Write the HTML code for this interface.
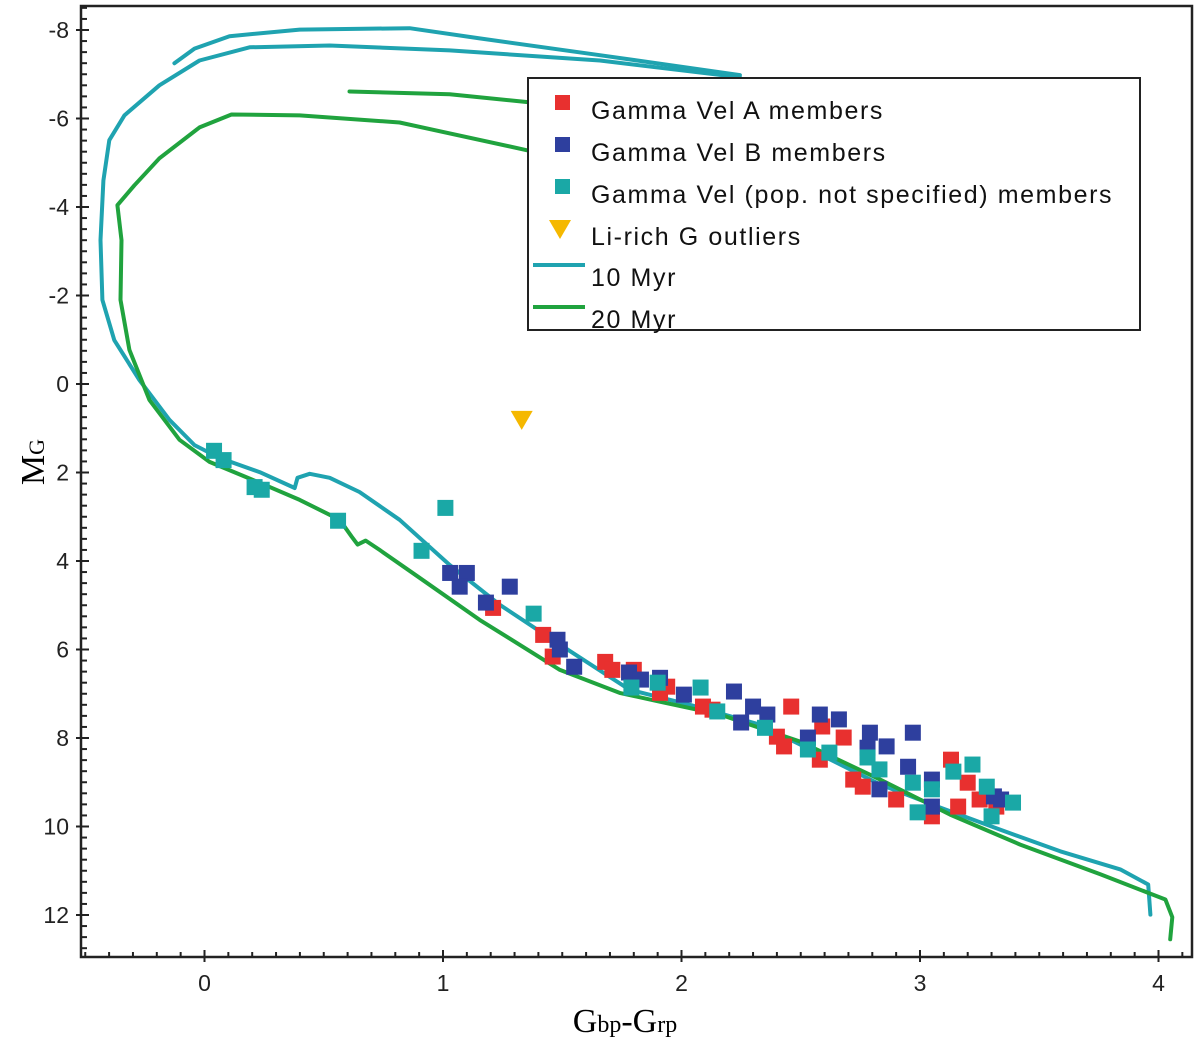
<!DOCTYPE html>
<html><head><meta charset="utf-8">
<style>
html,body{margin:0;padding:0;background:#fff;}
svg{display:block;}
text{font-family:"Liberation Sans",Arial,sans-serif;}
</style></head>
<body>
<svg id="chart" width="1200" height="1042" viewBox="0 0 1200 1042" xmlns="http://www.w3.org/2000/svg">
<g id="lines"></g>
<g id="pts"></g>
<g id="axes"></g>
<g id="legend"></g>
<text transform="translate(44,462) rotate(-90)" text-anchor="middle" style="font-family:'Liberation Serif',serif;font-size:34px">M<tspan font-size="22px">G</tspan></text>
<text x="625" y="1032" text-anchor="middle" style="font-family:'Liberation Serif',serif;font-size:34px">G<tspan font-size="24px">bp</tspan>-G<tspan font-size="24px">rp</tspan></text>
</svg>
<script>
const xTicks=[0,1,2,3,4];
const yTicks=[-8,-6,-4,-2,0,2,4,6,8,10,12];
const iso10a=[[-0.126,-7.25],[-0.042,-7.58],[0.105,-7.86],[0.399,-8.01],[0.860,-8.04],[1.154,-7.81],[1.658,-7.43],[2.245,-6.98]];
const iso10b=[[2.245,-6.93],[1.658,-7.31],[1.028,-7.54],[0.525,-7.65],[0.189,-7.61],[-0.021,-7.31],[-0.189,-6.75],[-0.336,-6.07],[-0.399,-5.51],[-0.424,-4.60],[-0.436,-3.25],[-0.428,-1.90],[-0.378,-0.99],[-0.273,-0.09],[-0.147,0.81],[-0.042,1.38],[0.063,1.67],[0.231,1.99],[0.378,2.35],[0.390,2.12],[0.441,2.03],[0.525,2.12],[0.650,2.44],[0.818,3.07],[1.028,4.09],[1.238,4.99],[1.490,5.89],[1.783,6.91],[2.035,7.25],[2.329,7.70],[2.581,8.37],[2.833,9.05],[3.084,9.57],[3.336,10.07],[3.588,10.56],[3.840,10.97],[3.957,11.31],[3.966,11.99]];
const iso20a=[[0.608,-6.61],[1.028,-6.55],[1.355,-6.37]];
const iso20b=[[1.355,-5.28],[0.818,-5.91],[0.399,-6.07],[0.113,-6.09],[-0.021,-5.80],[-0.189,-5.10],[-0.294,-4.49],[-0.365,-4.04],[-0.348,-3.25],[-0.352,-1.90],[-0.315,-0.77],[-0.231,0.36],[-0.105,1.26],[0.021,1.76],[0.231,2.23],[0.399,2.62],[0.567,3.07],[0.617,3.45],[0.642,3.63],[0.676,3.54],[0.734,3.75],[0.902,4.38],[1.154,5.33],[1.490,6.46],[1.741,6.98],[1.909,7.18],[2.161,7.47],[2.497,8.08],[2.833,8.94],[3.126,9.73],[3.420,10.41],[3.756,11.08],[4.029,11.65],[4.058,12.05],[4.049,12.55]];
const redPts=[[1.21,5.06],[1.42,5.67],[1.46,6.16],[1.68,6.28],[1.71,6.46],[1.80,6.46],[1.94,6.84],[1.91,6.98],[2.13,7.36],[2.09,7.29],[2.46,7.29],[2.40,7.97],[2.43,8.19],[2.59,7.74],[2.68,7.99],[2.58,8.49],[2.72,8.94],[2.76,9.10],[2.90,9.39],[3.05,9.77],[3.16,9.55],[3.13,8.49],[3.20,9.01],[3.25,9.39],[3.32,9.55]];
const bluePts=[[1.03,4.27],[1.10,4.27],[1.07,4.58],[1.28,4.58],[1.18,4.94],[1.48,5.78],[1.49,6.00],[1.55,6.39],[1.78,6.52],[1.83,6.68],[1.91,6.64],[2.01,7.02],[2.22,6.95],[2.30,7.29],[2.36,7.47],[2.25,7.65],[2.58,7.47],[2.66,7.58],[2.79,7.88],[2.97,7.88],[2.86,8.19],[2.78,8.22],[2.53,7.99],[2.95,8.65],[3.05,8.94],[3.31,9.32],[3.34,9.39],[3.05,9.55],[2.83,9.16]];
const cyanPts=[[0.04,1.51],[0.08,1.72],[0.21,2.33],[0.24,2.39],[0.56,3.09],[0.91,3.77],[1.01,2.80],[1.38,5.19],[1.79,6.86],[1.90,6.75],[2.08,6.86],[2.15,7.40],[2.35,7.77],[2.53,8.26],[2.62,8.33],[2.78,8.44],[2.83,8.71],[2.97,9.01],[2.99,9.68],[3.05,9.16],[3.14,8.76],[3.22,8.60],[3.28,9.10],[3.30,9.77],[3.39,9.46]];
const liRich=[[1.33,0.81]];
const legendLabels=["Gamma Vel A members","Gamma Vel B members","Gamma Vel (pop. not specified) members","Li-rich G outliers","10 Myr","20 Myr"];

const NS="http://www.w3.org/2000/svg";
const L=81,R=1192,T=6,B=957;
function X(v){return 204.5+238.5*v;}
function Y(v){return 384+44.25*v;}
function mk(tag,attrs,parent){const e=document.createElementNS(NS,tag);for(const k in attrs)e.setAttribute(k,attrs[k]);parent.appendChild(e);return e;}
const gl=document.getElementById('lines'),gp=document.getElementById('pts'),ga=document.getElementById('axes'),gg=document.getElementById('legend');
const CY='#1fa3b0',GR='#20a33e';
function line(arr,col,name){const p=mk('polyline',{points:arr.map(d=>X(d[0]).toFixed(1)+','+Y(d[1]).toFixed(1)).join(' '),fill:'none',stroke:col,'stroke-width':4,'stroke-linejoin':'round','stroke-linecap':'round'},gl);

}
line(iso10a,CY,'isochrone-10myr-upper');
line(iso10b,CY,'isochrone-10myr');
line(iso20a,GR,'isochrone-20myr-upper');
line(iso20b,GR,'isochrone-20myr');
function pts(arr,col,name){arr.forEach(d=>{const r=mk('rect',{x:X(d[0])-8,y:Y(d[1])-8,width:16,height:16,fill:col},gp);

});}
pts(redPts,'#e8302f','point-gamma-vel-a');
pts(bluePts,'#2e3f9e','point-gamma-vel-b');
pts(cyanPts,'#1aa8a6','point-gamma-vel-unspecified');
liRich.forEach(d=>{const x=X(d[0]),y=Y(d[1]);const t=mk('polygon',{points:`${x-11},${y-9} ${x+11},${y-9} ${x},${y+10}`,fill:'#f5b800'},gp);

});
// axes frame
mk('rect',{x:L,y:T,width:R-L,height:B-T,fill:'none',stroke:'#222','stroke-width':2.5},ga);
for(let v=-0.5;v<=4.15;v+=0.1){const x=X(v);const maj=Math.abs(v-Math.round(v))<0.01;mk('line',{x1:x,y1:B-(maj?7:5),x2:x,y2:B+(maj?5:0),stroke:'#222','stroke-width':2},ga);}
for(let v=-8.5;v<=12.9;v+=0.25){const y=Y(v);if(y<T||y>B)continue;const maj=Math.abs(v/2-Math.round(v/2))<0.01;mk('line',{x1:L-(maj?5:0),y1:y,x2:L+(maj?8:6),y2:y,stroke:'#222','stroke-width':2},ga);}
xTicks.forEach(v=>{const t=mk('text',{x:X(v),y:991,'text-anchor':'middle','font-size':23,fill:'#222'},ga);t.textContent=v;

});
yTicks.forEach(v=>{const t=mk('text',{x:L-12,y:Y(v)+8,'text-anchor':'end','font-size':23,fill:'#222'},ga);t.textContent=v;

});
// legend
mk('rect',{x:528,y:78,width:612,height:252,fill:'#fff',stroke:'#222','stroke-width':2},gg);
const ly=[104,146,188,230,271,313];
const lc=['#e8302f','#2e3f9e','#1aa8a6','#f5b800',CY,GR];
legendLabels.forEach((s,i)=>{const y=ly[i];
if(i<3){mk('rect',{x:555,y:y-9,width:15,height:15,fill:lc[i]},gg);}
else if(i==3){mk('polygon',{points:`549,${y-10} 571,${y-10} 560,${y+9}`,fill:lc[i]},gg);}
else{mk('line',{x1:533,y1:y-6,x2:585,y2:y-6,stroke:lc[i],'stroke-width':4},gg);}
const t=mk('text',{x:591,y:y+15,'font-size':25,'letter-spacing':1.6,fill:'#111'},gg);t.textContent=s;

});
</script>
</body></html>
